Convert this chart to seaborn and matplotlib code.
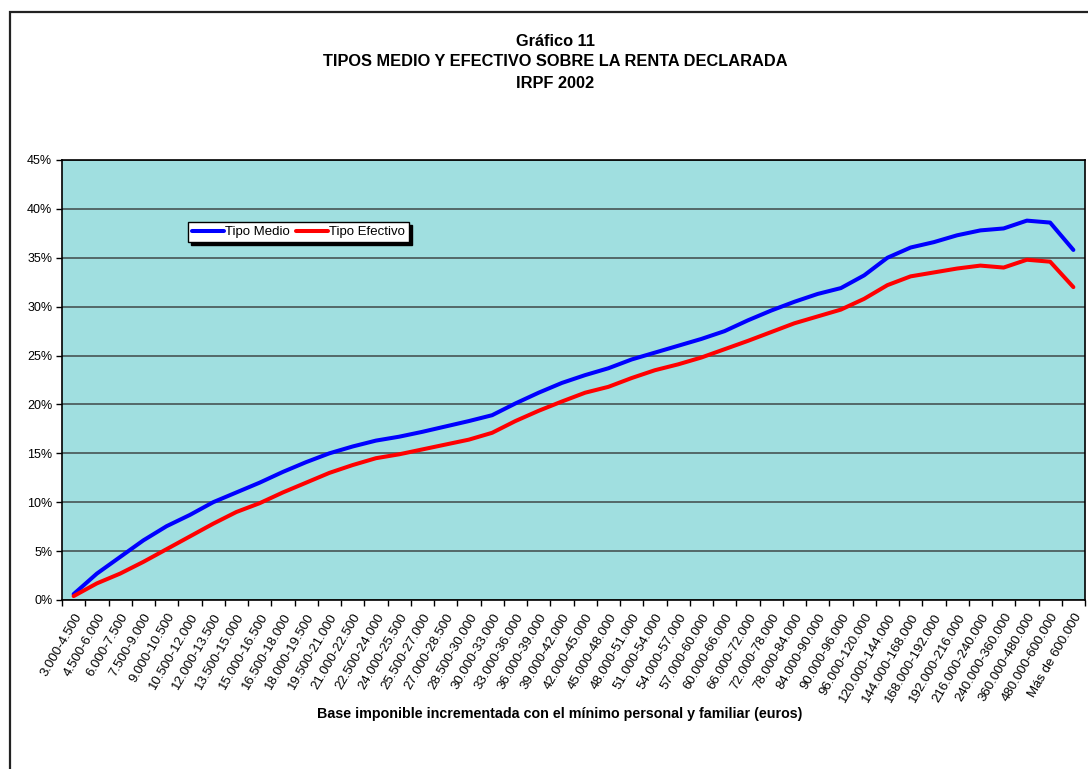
import matplotlib
matplotlib.use('Agg')
import matplotlib.pyplot as plt
import matplotlib.patches as mpatches
import numpy as np
import pandas as pd
import seaborn as sns

# Data (tramos de base imponible, tipos en %)
tramos = ['3.000-4.500', '4.500-6.000', '6.000-7.500', '7.500-9.000', '9.000-10.500',
          '10.500-12.000', '12.000-13.500', '13.500-15.000', '15.000-16.500', '16.500-18.000',
          '18.000-19.500', '19.500-21.000', '21.000-22.500', '22.500-24.000', '24.000-25.500',
          '25.500-27.000', '27.000-28.500', '28.500-30.000', '30.000-33.000', '33.000-36.000',
          '36.000-39.000', '39.000-42.000', '42.000-45.000', '45.000-48.000', '48.000-51.000',
          '51.000-54.000', '54.000-57.000', '57.000-60.000', '60.000-66.000', '66.000-72.000',
          '72.000-78.000', '78.000-84.000', '84.000-90.000', '90.000-96.000', '96.000-120.000',
          '120.000-144.000', '144.000-168.000', '168.000-192.000', '192.000-216.000',
          '216.000-240.000', '240.000-360.000', '360.000-480.000', '480.000-600.000',
          'Más de 600.000']

tipo_medio = [0.6, 2.7, 4.4, 6.1, 7.55, 8.7, 10.0, 11.0, 12.0, 13.1,
              14.1, 15.0, 15.7, 16.3, 16.7, 17.2, 17.75, 18.3, 18.9, 20.1,
              21.2, 22.2, 23.0, 23.7, 24.6, 25.3, 26.0, 26.7, 27.5, 28.6,
              29.6, 30.5, 31.3, 31.9, 33.2, 35.0, 36.05, 36.6, 37.3, 37.8,
              38.0, 38.8, 38.6, 35.8]

tipo_efectivo = [0.4, 1.7, 2.7, 3.9, 5.2, 6.5, 7.8, 9.0, 9.9, 11.0,
                 12.0, 13.0, 13.8, 14.5, 14.9, 15.4, 15.9, 16.4, 17.1, 18.3,
                 19.35, 20.3, 21.2, 21.8, 22.7, 23.5, 24.1, 24.8, 25.65, 26.5,
                 27.4, 28.3, 29.0, 29.7, 30.8, 32.2, 33.1, 33.5, 33.9, 34.2,
                 34.0, 34.8, 34.6, 32.0]

df = pd.DataFrame({
    'tramo': tramos * 2,
    'tipo': tipo_medio + tipo_efectivo,
    'serie': ['Tipo Medio'] * len(tramos) + ['Tipo Efectivo'] * len(tramos),
})
df['pos'] = list(range(len(tramos))) * 2

sns.set_style('white')
plt.rcParams['font.family'] = ['Liberation Sans', 'DejaVu Sans']
plt.rcParams['text.color'] = 'black'
plt.rcParams['xtick.color'] = 'black'
plt.rcParams['ytick.color'] = 'black'

fig = plt.figure(figsize=(10.88, 7.69), dpi=100)
ax = fig.add_axes([62 / 1088, 1 - 600 / 769, 1023 / 1088, 440 / 769])
ax.set_facecolor('#a0dfe0')

sns.lineplot(data=df, x='pos', y='tipo', hue='serie', ax=ax,
             palette={'Tipo Medio': '#0000ff', 'Tipo Efectivo': '#ff0000'},
             linewidth=2.9, legend=True, zorder=3)

# axes
ax.set_xlim(-0.5, len(tramos) - 0.5)
ax.set_ylim(0, 45)
ax.set_yticks(np.arange(0, 46, 5))
ax.set_yticklabels([f'{v}%' for v in range(0, 46, 5)], fontsize=9)
ax.yaxis.grid(True, color='#465454', linewidth=1.2, zorder=1)
ax.xaxis.grid(False)
ax.set_axisbelow(True)
ax.tick_params(axis='y', length=4, width=1, direction='out', left=True, pad=3)

ax.set_xticks(range(len(tramos)))
ax.set_xticklabels(tramos, rotation=60, ha='right', rotation_mode='anchor', fontsize=9.5)
ax.tick_params(axis='x', which='major', length=0, pad=8)
ax.set_xticks(np.arange(-0.5, len(tramos), 1), minor=True)
ax.tick_params(axis='x', which='minor', length=4, width=1, direction='out', bottom=True)

for s in ax.spines.values():
    s.set_color('black')
    s.set_linewidth(1.2)

ax.set_xlabel('')
ax.set_ylabel('')
fig.text(560 / 1088, 1 - 714 / 769,
         'Base imponible incrementada con el mínimo personal y familiar (euros)',
         ha='center', va='center', fontsize=10.3, fontweight='bold', color='black')

# legend
handles, labels = ax.get_legend_handles_labels()
leg = ax.legend(handles, labels, ncol=2, loc='upper left',
                bbox_to_anchor=(126 / 1023, (600 - 222) / 440),
                frameon=True, fancybox=False, shadow={'color': 'black', 'alpha': 1},
                fontsize=9.5, handlelength=2.4, handletextpad=0.1, columnspacing=0.5,
                borderpad=0.3, borderaxespad=0)
leg.get_frame().set_edgecolor('black')
leg.get_frame().set_linewidth(1)
leg.get_frame().set_facecolor('white')
leg.get_frame().set_alpha(1)
for h in leg.get_lines():
    h.set_linewidth(2.9)
for t in leg.get_texts():
    t.set_color('black')

# titles
title_lines = ['Gráfico 11', 'TIPOS MEDIO Y EFECTIVO SOBRE LA RENTA DECLARADA', 'IRPF 2002']
for i, t in enumerate(title_lines):
    fig.text(555 / 1088, 1 - (41 + 21 * i) / 769, t, ha='center', va='center',
             fontsize=11.8, fontweight='bold', color='black')

# outer chart frame
frame = mpatches.Rectangle((10 / 1088, -0.05), 1.0, 1.05 - 12 / 769,
                           transform=fig.transFigure, fill=False,
                           edgecolor='#222222', linewidth=1.6, clip_on=False)
fig.patches.append(frame)

fig.savefig('out.png', dpi=100)
